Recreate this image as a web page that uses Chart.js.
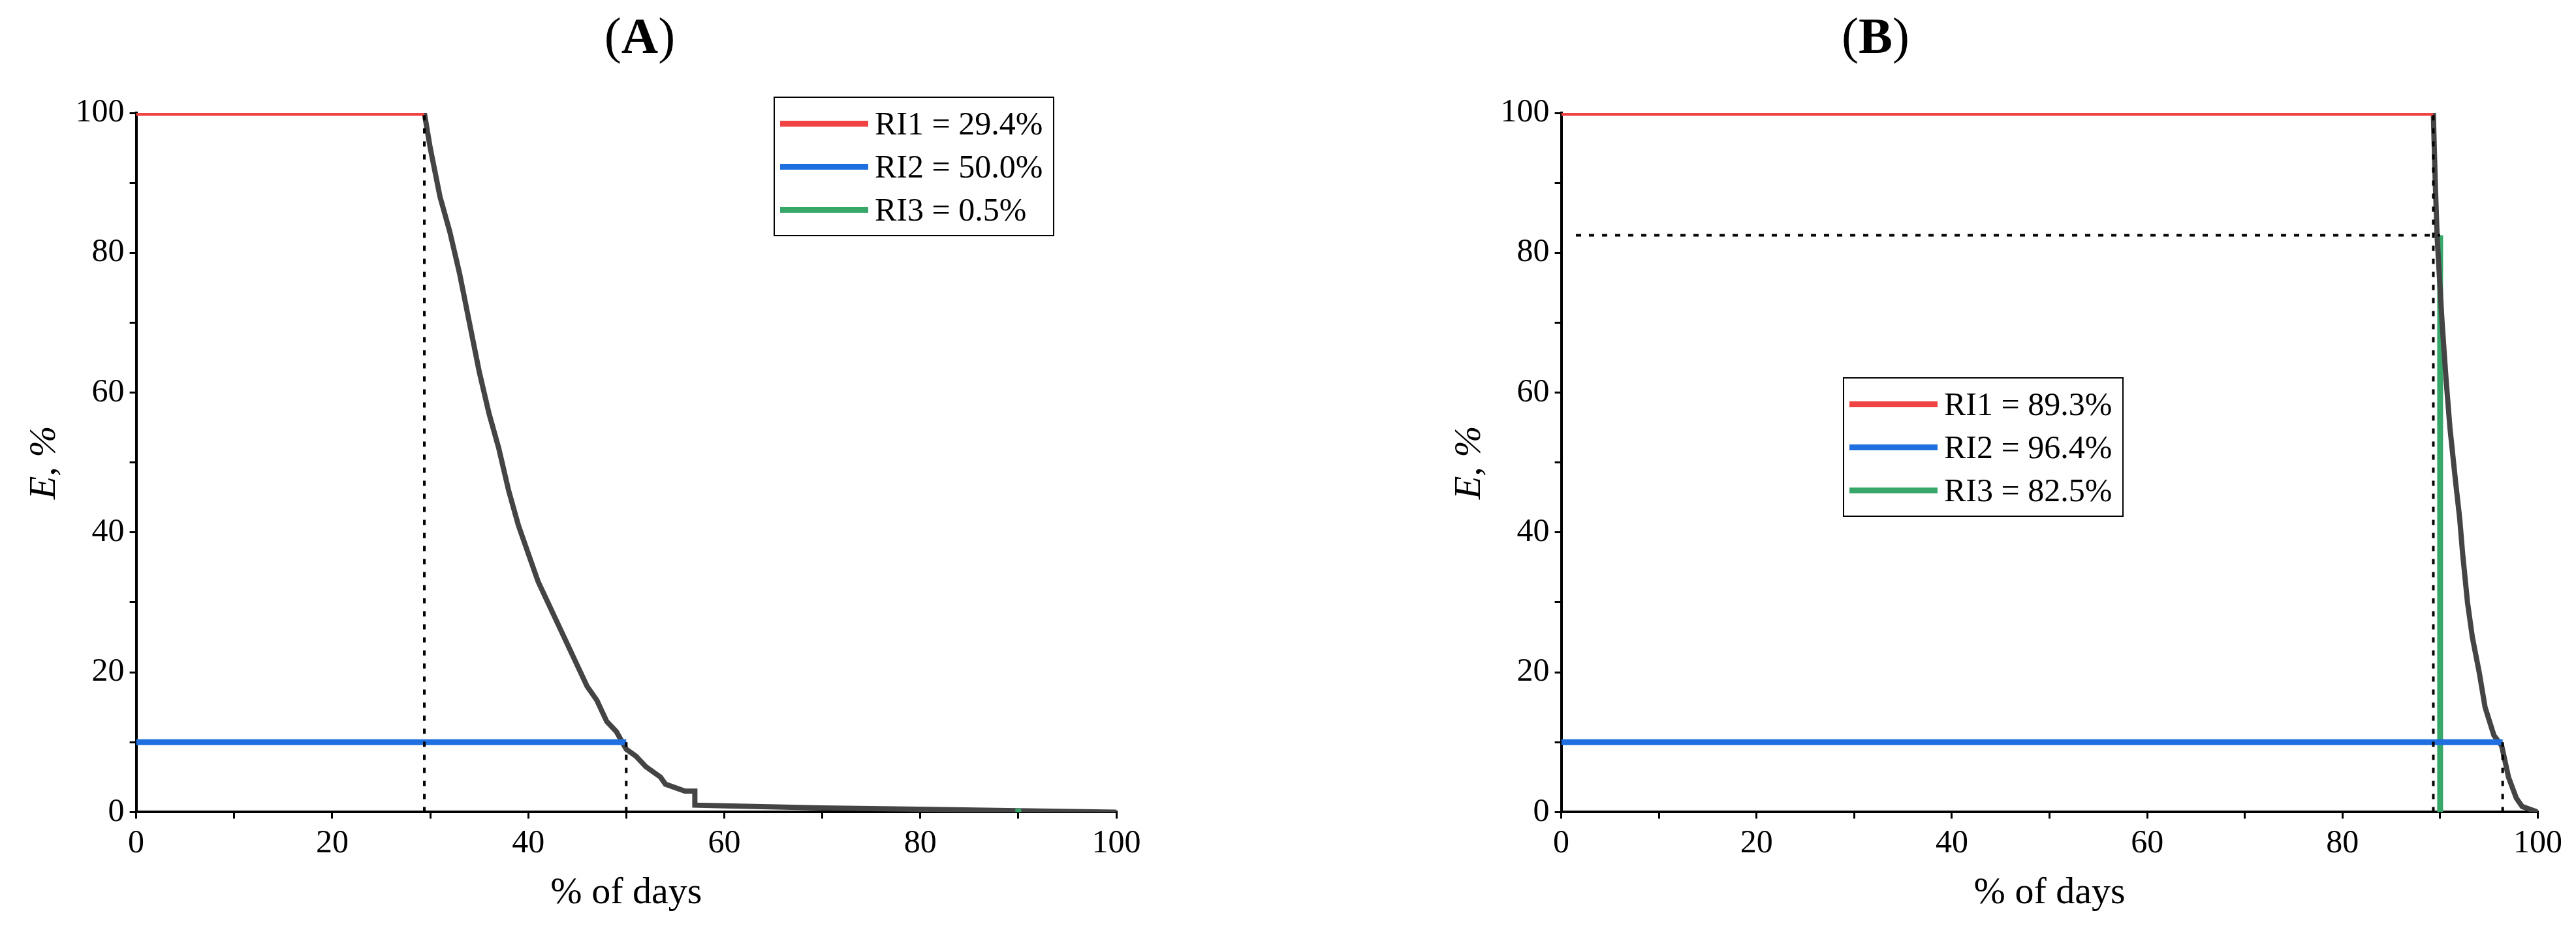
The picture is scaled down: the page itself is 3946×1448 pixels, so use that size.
<!DOCTYPE html>
<html>
<head>
<meta charset="utf-8">
<script src="https://cdn.jsdelivr.net/npm/chart.js@4.4.0/dist/chart.umd.min.js"></script>
<style>
body { margin:0; background:#fff; width:3946px; height:1448px; position:relative; overflow:hidden; font-family:"Liberation Serif", serif; }
.panel { position:absolute; top:0; width:1973px; height:1448px; }
.title { position:absolute; top:10px; width:100%; text-align:center; font-size:78px; }
.title b { font-weight:bold; }
.legend { position:absolute; border:2px solid #000; background:#fff; padding:6px 16px 6px 8px; font-size:50px; }
.legend div { display:flex; align-items:center; height:66px; }
.legend span.l { display:inline-block; width:135px; height:9px; margin-right:10px; }
</style>
</head>
<body>
<div class="panel" style="left:0"><div class="title" style="left:0;width:1960px">(<b>A</b>)</div><canvas id="chartA"></canvas>
<div class="legend" style="left:1185px;top:148px">
<div><span class="l" style="background:#f04444"></span>RI1 = 29.4%</div>
<div><span class="l" style="background:#1f6fe0"></span>RI2 = 50.0%</div>
<div><span class="l" style="background:#37a86a"></span>RI3 = 0.5%</div></div></div>
<div class="panel" style="left:1973px"><div class="title" style="left:0;width:1800px">(<b>B</b>)</div><canvas id="chartB"></canvas>
<div class="legend" style="left:850px;top:578px">
<div><span class="l" style="background:#f04444"></span>RI1 = 89.3%</div>
<div><span class="l" style="background:#1f6fe0"></span>RI2 = 96.4%</div>
<div><span class="l" style="background:#37a86a"></span>RI3 = 82.5%</div></div></div>
<script>
// Panel A
var curveAx = [29.4, 30, 31, 32, 33, 34, 35, 36, 37, 38, 39, 40, 41, 42, 43, 44, 45, 46, 47, 48, 49, 50, 51, 52, 53.5, 54, 56, 57, 57, 60, 70, 80, 90, 100];
var curveAy = [100, 95, 88, 83, 77, 70, 63, 57, 52, 46, 41, 37, 33, 30, 27, 24, 21, 18, 16, 13, 11.5, 9, 8, 6.5, 5, 4, 3, 3, 1, 0.9, 0.6, 0.4, 0.2, 0];
var ri1A = 29.4, ri2A = 50.0, ri3A = 0.5;

// Panel B
var curveBx = [89.3, 89.5, 89.7, 90.2, 90.6, 91, 91.6, 92, 92.3, 92.8, 93.3, 94, 94.6, 95.5, 96.3, 97, 97.8, 98.4, 99, 100];
var curveBy = [100, 90, 82, 70, 62, 55, 47, 42, 37, 30, 25, 20, 15, 11, 9.5, 5, 2, 0.8, 0.5, 0];
var ri1B = 89.3, ri2B = 96.4, ri3B = 82.5;

var xTicks = [0, 20, 40, 60, 80, 100];
var yTicks = [0, 20, 40, 60, 80, 100];

function pts(xs, ys) { return xs.map(function (x, i) { return { x: x, y: ys[i] }; }); }
function seg(x1, y1, x2, y2) { return [{ x: x1, y: y1 }, { x: x2, y: y2 }]; }

function line(data, color, w, dash) {
    return { data: data, borderColor: color, borderWidth: w, borderDash: dash || [], pointRadius: 0, fill: false, tension: 0 };
}

function makeChart(id, w, h, padLeft, padRight, datasets) {
    var c = document.getElementById(id);
    c.style.width = w + 'px'; c.style.height = h + 'px';
    var tickFont = { family: 'Liberation Serif', size: 50 };
    var axis = function (title) {
        return {
            type: 'linear', min: 0, max: 100,
            border: { color: '#000', width: 4 },
            grid: { drawOnChartArea: false, color: '#000', lineWidth: 3, tickLength: 10 },
            ticks: { stepSize: 10, color: '#000', font: tickFont, padding: 8,
                callback: function (v) { return xTicks.indexOf(v) >= 0 ? v : ''; } },
            title: { display: true, text: title, color: '#000', font: { family: 'Liberation Serif', size: 58 } }
        };
    };
    var x = axis('% of days');
    var y = axis('E, %');
    y.title.font = { family: 'Liberation Serif', size: 58, style: 'italic' };
    return new Chart(c, {
        type: 'line',
        data: { datasets: datasets },
        options: {
            responsive: false, animation: false,
            layout: { padding: { left: padLeft, top: 173, right: padRight, bottom: 40 } },
            plugins: { legend: { display: false }, tooltip: { enabled: false } },
            scales: { x: x, y: y }
        }
    });
}

makeChart('chartA', 1900, 1448, 30, 190, [
    line(seg(ri1A, 0, ri1A, 100), '#000', 4, [8, 12]),
    line(seg(ri2A, 0, ri2A, 10), '#000', 4, [8, 12]),
    line(seg(0, 100, ri1A, 100), '#f04444', 9),
    line(seg(0, 10, ri2A, 10), '#1f6fe0', 9),
    line(seg(90, 0, 90, ri3A), '#37a86a', 9),
    line(pts(curveAx, curveAy), '#444', 8)
]);

makeChart('chartB', 1960, 1448, 240, 34, [
    line(seg(ri1B, 0, ri1B, 100), '#000', 4, [8, 12]),
    line(seg(ri2B, 0, ri2B, 10), '#000', 4, [8, 12]),
    line(seg(1.5, ri3B, 90, ri3B), '#000', 4, [8, 12]),
    line(seg(0, 100, ri1B, 100), '#f04444', 9),
    line(seg(0, 10, ri2B, 10), '#1f6fe0', 9),
    line(pts(curveBx, curveBy), '#444', 8),
    line(seg(90, 0, 90, ri3B), '#37a86a', 9)
]);
</script>
</body>
</html>
